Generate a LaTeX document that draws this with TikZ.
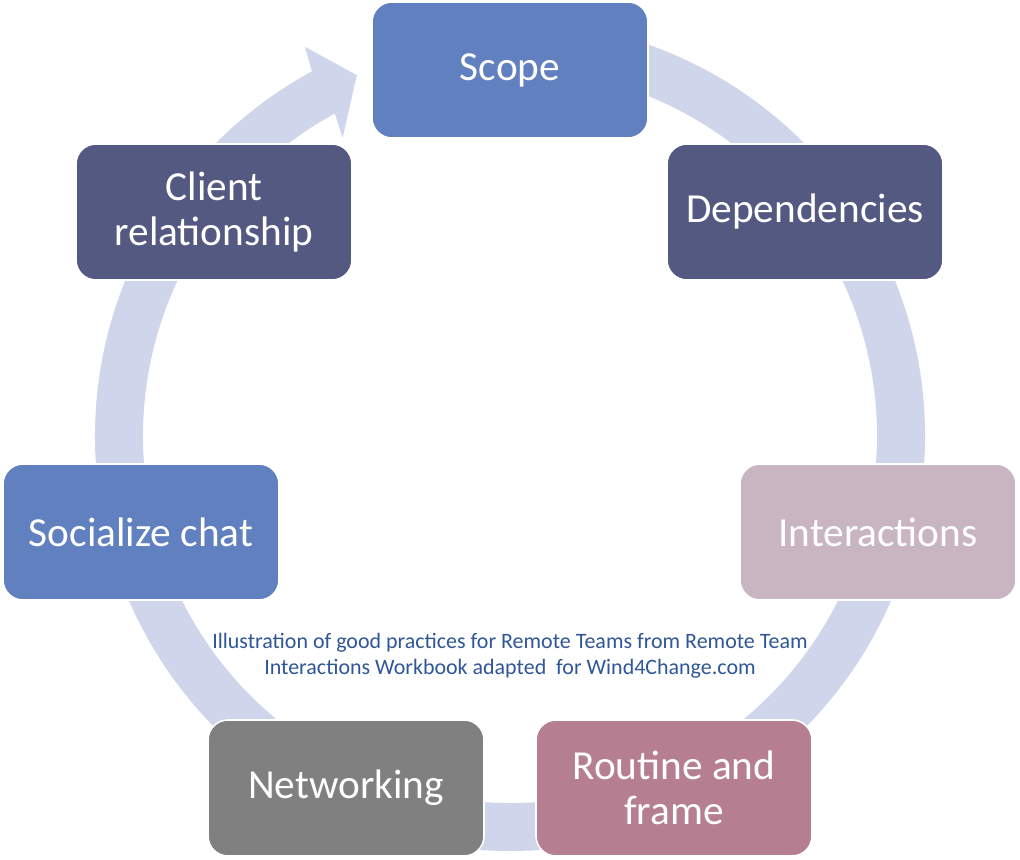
\documentclass[tikz,border=0pt]{standalone}
\usepackage{fontspec}
\setmainfont{Carlito}
\usepackage{xcolor}
\definecolor{cycleBlue}{RGB}{97, 128, 192}
\definecolor{cycleNavy}{RGB}{84, 89, 129}
\definecolor{cycleMauve}{RGB}{201, 180, 193}
\definecolor{cycleRose}{RGB}{181, 126, 145}
\definecolor{cycleGrey}{RGB}{128, 128, 128}
\definecolor{cycleRing}{RGB}{207, 213, 234}
\definecolor{noteBlue}{RGB}{47, 86, 150}

\begin{document}
\begin{tikzpicture}[x=0.2mm, y=0.2mm,
    stage/.style={draw=white, line width=0.9pt, rounded corners=4mm, minimum width=55.2mm, minimum height=27.2mm, align=center, text=white, font=\fontsize{23.5}{25.5}\selectfont}]
            \useasboundingbox (0,0) rectangle (1020,860);

            % Ring arrow
            \begin{scope}[shift={(510,424)}]
                \fill[cycleRing] (85:415) arc[start angle=85, end angle=-241.5, radius=415] -- (-242.2:440) -- (-247:392) -- (-240.7:342) -- (-241.5:367) arc[start angle=-241.5, end angle=85, radius=367] -- cycle;
            \end{scope}

            % Stages
            \node[stage, fill=cycleBlue] (scope) at (510,790) {Scope};
            \node[stage, fill=cycleNavy] (deps) at (805,648) {Dependencies};
            \node[stage, fill=cycleMauve] (interact) at (878,328) {Interactions};
            \node[stage, fill=cycleRose] (routine) at (674,72) {Routine and\\frame};
            \node[stage, fill=cycleGrey] (network) at (346,72) {Networking};
            \node[stage, fill=cycleBlue] (social) at (141,328) {Socialize chat};
            \node[stage, fill=cycleNavy] (client) at (214,648) {Client\\relationship};

            % Caption
            \node[text=noteBlue, align=center, font=\fontsize{12.5}{14.9}\selectfont] (note) at (510,204) {Illustration of good practices for Remote Teams from Remote Team\\Interactions Workbook adapted\ \ for Wind4Change.com};
        \end{tikzpicture}
\end{document}
